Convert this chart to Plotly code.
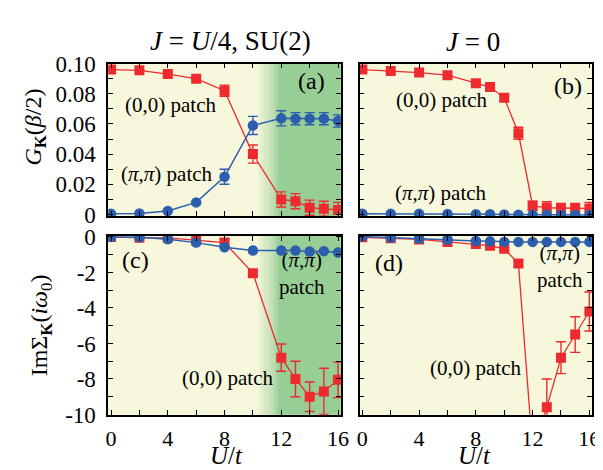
import plotly.graph_objects as go

# ---------------- data ----------------
U_left = [0, 2, 4, 6, 8, 10, 12, 13, 14, 15, 16]
U_right = [0, 2, 4, 6, 8, 9, 10, 11, 12, 13, 14, 15, 16]

G_a_00 = [0.096, 0.0955, 0.093, 0.090, 0.082, 0.040, 0.010, 0.0088, 0.0045, 0.0038, 0.003]
G_a_00_err = [0, 0, 0, 0, 0.0037, 0.006, 0.005, 0.005, 0.005, 0.005, 0.005]
G_a_pp = [0.0005, 0.0007, 0.0023, 0.008, 0.025, 0.059, 0.0637, 0.0635, 0.0635, 0.0635, 0.062]
G_a_pp_err = [0, 0, 0, 0, 0.005, 0.006, 0.005, 0.004, 0.004, 0.004, 0.004]

G_b_00 = [0.096, 0.095, 0.094, 0.0923, 0.087, 0.0844, 0.0773, 0.0538, 0.0058, 0.0044, 0.0043, 0.0043, 0.004]
G_b_00_err = [0, 0, 0, 0, 0.001, 0.001, 0.002, 0.004, 0.003, 0.004, 0.003, 0.003, 0.004]
G_b_pp = [0.0005, 0.0005, 0.0004, 0.0003, 0.0002, 0.0001, 0.0, -0.0001, -0.0002, -0.0002, -0.0003, -0.0003, -0.0003]

S_c_00 = [0.0, -0.05, -0.05, -0.2, -0.32, -2.04, -6.8, -8.0, -9.0, -8.7, -8.05]
S_c_00_err = [0, 0, 0, 0, 0.2, 0.15, 0.77, 1.0, 0.83, 1.3, 1.0]
S_c_pp = [0.0, -0.02, -0.13, -0.32, -0.58, -0.76, -0.76, -0.76, -0.82, -0.8, -0.88]

S_d_00 = [-0.02, -0.07, -0.14, -0.28, -0.4, -0.49, -0.67, -1.49, -12.0, -9.6, -6.8, -5.5, -4.2]
S_d_00_err = [0, 0, 0, 0, 0.05, 0.05, 0.1, 0.15, 0, 1.6, 0.9, 1.0, 1.1]
S_d_pp = [0.02, -0.05, -0.1, -0.16, -0.23, -0.25, -0.28, -0.28, -0.28, -0.28, -0.28, -0.28, -0.28]

x_tickvals = [0, 4, 8, 12, 16]
x_ticktext = ["0", "4", "8", "12", "16"]
g_tickvals = [0, 0.02, 0.04, 0.06, 0.08, 0.10]
g_ticktext = ["0", "0.02", "0.04", "0.06", "0.08", "0.10"]
s_tickvals = [0, -2, -4, -6, -8, -10]
s_ticktext = ["0", "-2", "-4", "-6", "-8", "-10"]

# ---------------- style ----------------
RED = "#ee2a2e"
BLUE = "#2b5fae"
CREAM = "#f7f7dc"
GREEN = (150, 206, 150)
CREAM_RGB = (247, 247, 220)
FONT = "Liberation Serif"
W, H = 603, 470

XR = [-0.2, 16.2]
GR = [-0.001, 0.1]
SR = [-10.02, 0.06]


def px_x(a, b):
    return [a / W, b / W]


def px_y(top, bottom):
    return [1 - bottom / H, 1 - top / H]


fig = go.Figure()


def add_series(x, y, err, color, symbol, size, xa, ya, lw):
    eb = None
    if err is not None:
        eb = dict(type="data", array=err, visible=True, color=color, thickness=1.4, width=5)
    fig.add_trace(go.Scatter(
        x=x, y=y, mode="lines+markers",
        line=dict(color=color, width=lw),
        marker=dict(color=color, symbol=symbol, size=size, line=dict(width=0)),
        error_y=eb,
        xaxis=xa, yaxis=ya, showlegend=False, cliponaxis=True,
    ))


SQ, CI = 10, 10.5
# panel (a)
add_series(U_left, G_a_00, G_a_00_err, RED, "square", SQ, "x", "y", 1.3)
add_series(U_left, G_a_pp, G_a_pp_err, BLUE, "circle", CI, "x", "y", 1.5)
# panel (b)
add_series(U_right, G_b_00, G_b_00_err, RED, "square", SQ, "x2", "y2", 1.3)
add_series(U_right, G_b_pp, None, BLUE, "circle", CI, "x2", "y2", 1.5)
# panel (c)
add_series(U_left, S_c_00, S_c_00_err, RED, "square", SQ, "x3", "y3", 1.3)
add_series(U_left, S_c_pp, None, BLUE, "circle", CI, "x3", "y3", 1.5)
# panel (d)
add_series(U_right, S_d_00, S_d_00_err, RED, "square", SQ, "x4", "y4", 1.3)
add_series(U_right, S_d_pp, None, BLUE, "circle", CI, "x4", "y4", 1.5)

# green gradient shading in left panels
shapes = []
g0, g1, n = 10.3, 11.9, 24
for xref, yref in (("x", "y domain"), ("x3", "y3 domain")):
    for i in range(n):
        xa = g0 + (g1 - g0) * i / n
        xb = g0 + (g1 - g0) * (i + 1) / n + 0.01
        t = (i + 0.5) / n
        c = tuple(int(CREAM_RGB[k] + (GREEN[k] - CREAM_RGB[k]) * t) for k in range(3))
        shapes.append(dict(type="rect", xref=xref, yref=yref, x0=xa, x1=xb, y0=0, y1=1,
                           fillcolor="rgb(%d,%d,%d)" % c, line=dict(width=0), layer="below"))
    shapes.append(dict(type="rect", xref=xref, yref=yref, x0=g1, x1=XR[1], y0=0, y1=1,
                       fillcolor="rgb(%d,%d,%d)" % GREEN, line=dict(width=0), layer="below"))

axis_common = dict(showline=True, linecolor="black", linewidth=1.5, mirror="allticks",
                   ticks="inside", ticklen=5, tickwidth=1, tickcolor="black",
                   showgrid=False, zeroline=False)


def xaxis(domain, anchor, labels):
    d = dict(axis_common)
    d.update(domain=domain, anchor=anchor, range=XR, tickvals=x_tickvals, ticktext=x_ticktext,
             showticklabels=labels, ticklabelstandoff=3,
             tickfont=dict(family=FONT, size=22, color="black"),
             minor=dict(dtick=2, tick0=0, ticks="inside", ticklen=5, tickcolor="black"))
    return d


def yaxis(domain, anchor, rng, vals, text, minor, labels):
    d = dict(axis_common)
    d.update(domain=domain, anchor=anchor, range=rng, tickvals=vals, ticktext=text,
             showticklabels=labels, ticklabelstandoff=6,
             tickfont=dict(family=FONT, size=23, color="black"),
             minor=dict(dtick=minor, tick0=0, ticks="inside", ticklen=5, tickcolor="black"))
    return d


XL = px_x(99, 336)
XRt = px_x(355, 592)
YT = px_y(46, 207)
YB = px_y(228, 417)

ann = []


def txt(x, y, s, size=20, angle=0):
    ann.append(dict(x=x / W, y=1 - y / H, xref="paper", yref="paper", text=s, showarrow=False,
                    font=dict(family=FONT, size=size, color="black"), textangle=angle,
                    xanchor="center", yanchor="middle"))


P = "(<i>π</i>,<i>π</i>)"
txt(224, 22, "<i>J</i> = <i>U</i>/4, SU(2)", 27)
txt(471, 23, "<i>J</i> = 0", 27)
txt(24, 113, "<i>G</i><sub><b>K</b></sub>(<i>β</i>/2)", 24, -90)
txt(30, 322, "ImΣ<sub><b>K</b></sub>(<i>iω</i><sub>0</sub>)", 24, -90)
txt(220, 460, "<i>U</i>/<i>t</i>", 25)
txt(472, 460, "<i>U</i>/<i>t</i>", 25)
# panel labels
txt(306, 64, "(a)", 24)
txt(567, 70, "(b)", 24)
txt(127, 254, "(c)", 24)
txt(385, 257, "(d)", 24)
# series annotations
txt(162, 90, "(0,0) patch", 21)
txt(159, 163, P + " patch", 21)
txt(438, 85, "(0,0) patch", 21)
txt(438, 183, P + " patch", 21)
txt(296, 268, P + "<br>patch", 21)
txt(221, 378, "(0,0) patch", 21)
txt(559, 260, P + "<br>patch", 21)
txt(473, 368, "(0,0) patch", 21)

fig.update_layout(
    width=W, height=H, margin=dict(l=0, r=0, t=0, b=0),
    paper_bgcolor="white", plot_bgcolor=CREAM,
    font=dict(family=FONT, color="black"),
    showlegend=False,
    xaxis=xaxis(XL, "y", False),
    yaxis=yaxis(YT, "x", GR, g_tickvals, g_ticktext, 0.01, True),
    xaxis2=xaxis(XRt, "y2", False),
    yaxis2=yaxis(YT, "x2", GR, g_tickvals, g_ticktext, 0.01, False),
    xaxis3=xaxis(XL, "y3", True),
    yaxis3=yaxis(YB, "x3", SR, s_tickvals, s_ticktext, 1, True),
    xaxis4=xaxis(XRt, "y4", True),
    yaxis4=yaxis(YB, "x4", SR, s_tickvals, s_ticktext, 1, False),
    shapes=shapes, annotations=ann,
)

fig.write_html("out.html")
